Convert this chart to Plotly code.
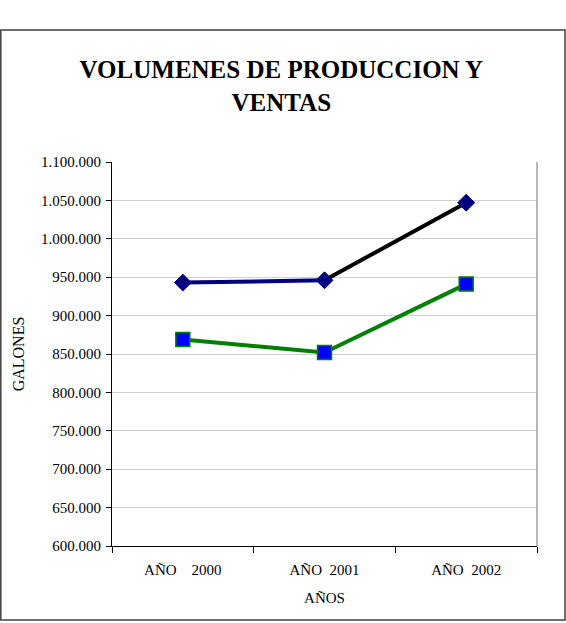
import plotly.graph_objects as go

categories = ["AÑO\u00a0\u00a0\u00a0\u00a02000", "AÑO\u00a0\u00a02001", "AÑO\u00a0\u00a02002"]
produccion = [943000, 946000, 1047000]
ventas = [869000, 852000, 941000]
y_ticks = [600000, 650000, 700000, 750000, 800000, 850000, 900000, 950000, 1000000, 1050000, 1100000]

W, H = 566, 623
L, R, T, B = 112, 29, 162, 77
pw, ph = W - L - R, H - T - B

def px_to_paper_x(px):
    return (px - L) / pw

def px_to_paper_y(py):
    return (H - B - py) / ph

font = "Liberation Serif, Times New Roman, serif"

fig = go.Figure()
# production line: first segment navy, second black
fig.add_trace(go.Scatter(x=categories[:2], y=produccion[:2], mode="lines",
                         line=dict(color="#000080", width=4), showlegend=False, hoverinfo="skip"))
fig.add_trace(go.Scatter(x=categories[1:], y=produccion[1:], mode="lines",
                         line=dict(color="#000000", width=4), showlegend=False, hoverinfo="skip"))
fig.add_trace(go.Scatter(x=categories, y=produccion, mode="markers",
                         marker=dict(symbol="diamond", size=13, color="#000080",
                                     line=dict(color="#000080", width=1)),
                         name="Producción", showlegend=False))
fig.add_trace(go.Scatter(x=categories, y=ventas, mode="lines+markers",
                         line=dict(color="#008000", width=4),
                         marker=dict(symbol="square", size=14, color="#0000FF",
                                     line=dict(color="#008000", width=1.5)),
                         name="Ventas", showlegend=False))

fig.update_layout(
    width=W, height=H,
    margin=dict(l=L, r=R, t=T, b=B),
    paper_bgcolor="white", plot_bgcolor="white",
    separators=",.",
    font=dict(family=font, color="black", size=15),
    title=dict(text="<b>VOLUMENES DE PRODUCCION Y<br>VENTAS</b>",
               font=dict(family=font, size=25, color="black"),
               x=0.497, xref="container", xanchor="center",
               y=1 - 78 / H, yref="container", yanchor="middle"),
    xaxis=dict(type="category", range=[-0.5, 2.5], tickson="boundaries",
               ticks="outside", ticklen=6, tickcolor="black",
               showline=True, linecolor="black", linewidth=1.2,
               showgrid=False, tickfont=dict(size=15), ticklabelstandoff=10,
               title=dict(text="AÑOS", font=dict(size=15), standoff=15)),
    yaxis=dict(range=[600000, 1100000], tickvals=y_ticks, tickformat=",d",
               ticks="outside", ticklen=5, tickcolor="black",
               showline=True, linecolor="black", linewidth=1.2,
               showgrid=True, gridcolor="#d0d0d0", gridwidth=1,
               zeroline=False, tickfont=dict(size=15), ticklabelstandoff=2,
               title=dict(text="GALONES", font=dict(size=16), standoff=12)),
    shapes=[
        dict(type="line", xref="paper", yref="paper", x0=1, x1=1, y0=0, y1=1,
             line=dict(color="#a0a0a0", width=1.5)),
        dict(type="rect", xref="paper", yref="paper",
             x0=px_to_paper_x(0.8), x1=px_to_paper_x(565),
             y0=px_to_paper_y(620), y1=px_to_paper_y(30),
             line=dict(color="#404040", width=1.5), layer="below"),
    ],
)

fig.write_html("out.html")
